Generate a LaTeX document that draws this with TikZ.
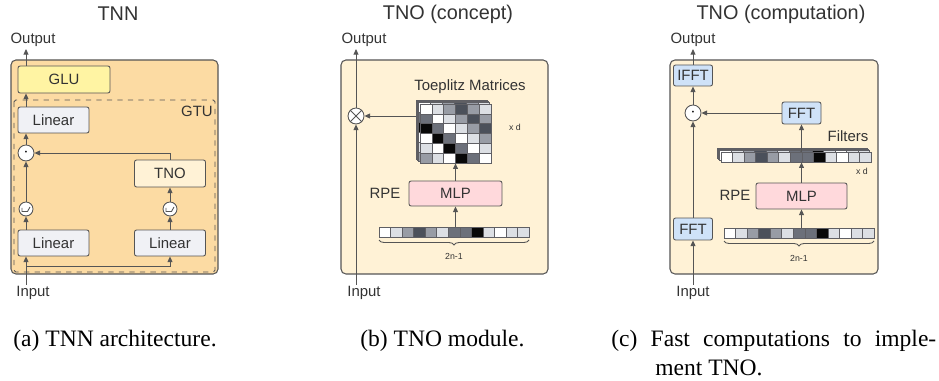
\documentclass[tikz,border=0pt]{standalone}
\usepackage{fontspec}
\setmainfont{Liberation Serif}
\setsansfont{Liberation Sans}
\usetikzlibrary{arrows.meta,decorations.pathreplacing}

\definecolor{edge}{RGB}{85,85,85}
\definecolor{ink}{RGB}{51,51,51}
\definecolor{cellline}{RGB}{95,95,100}
\definecolor{tnnorange}{RGB}{252,219,163}
\definecolor{tnocream}{RGB}{255,242,214}
\definecolor{glufill}{RGB}{255,244,163}
\definecolor{linfill}{RGB}{240,241,245}
\definecolor{mlpfill}{RGB}{255,217,220}
\definecolor{fftfill}{RGB}{207,226,248}
\definecolor{clight}{RGB}{220,223,228}
\definecolor{cmid}{RGB}{152,156,165}
\definecolor{cdim}{RGB}{108,112,122}
\definecolor{cdark}{RGB}{75,80,90}
\definecolor{cblack}{RGB}{8,8,8}

\begin{document}
\begin{tikzpicture}[x=0.02cm, y=-0.02cm,
  lbl/.style={font=\sffamily\fontsize{8.5}{10}\selectfont, text=ink},
  ttl/.style={font=\sffamily\fontsize{11.3}{13}\selectfont, text=ink},
  tiny/.style={font=\sffamily\fontsize{5}{6}\selectfont, text=ink},
  captext/.style={font=\fontsize{13.4}{15}\selectfont, anchor=west, inner sep=0pt},
  panel/.style={draw=edge, line width=0.6pt, rounded corners=2.8pt},
  blk/.style={draw=edge, line width=0.5pt, rounded corners=1.2pt, lbl, inner sep=0pt},
  dot/.style={draw=edge, fill=white, circle, line width=0.5pt, inner sep=0pt, minimum size=0.32cm},
  act/.style={dot, minimum size=0.28cm},
  cell/.style={draw=cellline, line width=0.3pt},
  wire/.style={draw=edge, line width=0.5pt},
  arr/.style={wire, -{Triangle[length=3.2pt,width=2.8pt]}},
  brc/.style={wire, decorate, decoration={brace, mirror, amplitude=0.1cm}}
]
\useasboundingbox (0,0) rectangle (939,381);

% ---------------- TNN ----------------
\node[ttl] (ta) at (118,14) {TNN};
\draw[panel, fill=tnnorange] (11,60) rectangle (218,274);
\draw[draw=edge, line width=0.5pt, dashed, rounded corners=1pt] (14,100) rectangle (215,272);
\node[lbl] (gtu) at (197,111) {GTU};

\coordinate (spa) at (26,0);
\coordinate (outatip) at (26,49);
\coordinate (inaend) at (26,285);
\coordinate (forka) at (26,266);

\node[blk, fill=glufill, minimum width=1.84cm, minimum height=0.54cm] (glu) at (64,79.5) {GLU};
\node[blk, fill=linfill, minimum width=1.42cm, minimum height=0.52cm] (lin3) at (53.5,120) {Linear};
\node[dot] (mula) at (26,153) {$\cdot$};
\node[blk, fill=tnocream, minimum width=1.42cm, minimum height=0.54cm] (tnoa) at (170,173.5) {TNO};
\node[act] (acta) at (26,209) {};
\node[act] (actb) at (170,209) {};
\node[blk, fill=linfill, minimum width=1.42cm, minimum height=0.52cm] (lina) at (53.5,243) {Linear};
\node[blk, fill=linfill, minimum width=1.42cm, minimum height=0.52cm] (linb) at (170,243) {Linear};
\node[lbl] (outa) at (33,40) {Output};
\node[lbl] (ina) at (33,293) {Input};

\draw[wire] (acta) ++(-4,-1) -- ++(0,3.5) -- ++(5.5,0) -- ++(2.5,-4.5);
\draw[wire] (actb) ++(-4,-1) -- ++(0,3.5) -- ++(5.5,0) -- ++(2.5,-4.5);

\draw[arr] (inaend) -- (lina.south -| spa);
\draw[arr] (forka) -| (linb.south);
\draw[arr] (lina.north -| spa) -- (acta.south);
\draw[arr] (acta.north) -- (mula.south);
\draw[arr] (mula.north) -- (lin3.south -| spa);
\draw[arr] (lin3.north -| spa) -- (glu.south -| spa);
\draw[arr] (glu.north -| spa) -- (outatip);
\draw[arr] (linb.north) -- (actb.south);
\draw[arr] (actb.north) -- (tnoa.south);
\draw[arr] (tnoa.north) |- (mula.east);

% ---------------- TNO (concept) ----------------
\node[ttl] (tb) at (448,14) {TNO (concept)};
\draw[panel, fill=tnocream] (341,60) rectangle (548,274);
\node[lbl] (outb) at (364,40) {Output};
\node[lbl] (inb) at (364,293) {Input};
\coordinate (outbtip) at (356,49);
\coordinate (inbend) at (356,285);

\node[dot] (mulb) at (356,116) {};
\draw[wire] (mulb.north west) -- (mulb.south east) (mulb.north east) -- (mulb.south west);
\node[lbl] (toeplbl) at (470,87) {Toeplitz Matrices};
\node[inner sep=0pt, minimum width=1.42cm, minimum height=1.18cm] (toep) at (455.5,133.5) {};
\draw[arr] (toep.west |- mulb) -- (mulb.east);

% stacked Toeplitz matrices
\foreach \o in {3,2,1,0} {
  \foreach \row [count=\r from 0] in {{white,clight,cmid,cdark,cmid,clight},
                                      {cdim,white,clight,cmid,cdark,cmid},
                                      {cblack,cdim,white,clight,cmid,cdark},
                                      {white,cblack,cdim,white,clight,cmid},
                                      {clight,white,cblack,cdim,white,clight},
                                      {cmid,clight,white,cblack,cdim,white}} {
    \foreach \c [count=\i from 0] in \row
      \filldraw[cell, fill=\c] (420-1.3*\o+\i*11.83, 104-1.3*\o+\r*9.83) rectangle ++(11.83,9.83);
  }
}
\node[tiny] (xdb) at (515,127) {x d};

\node[blk, fill=mlpfill, minimum width=1.86cm, minimum height=0.5cm] (mlpb) at (455.5,193.5) {MLP};
\node[lbl] (rpeb) at (385,193) {RPE};
\foreach \c [count=\i from 0] in {white,clight,cmid,cdark,cmid,clight,cdim,cdim,cblack,clight,white,clight,clight}
  \filldraw[cell, fill=\c] (379+\i*11.54,227) rectangle ++(11.54,10);
\node[inner sep=0pt, minimum width=3cm, minimum height=0.2cm] (vecb) at (454,232) {};
\draw[brc] (379,240) -- (529,240);
\node[tiny] (lenb) at (454,256) {2n-1};

\draw[arr] (inbend) -- (mulb.south);
\draw[arr] (mulb.north) -- (outbtip);
\draw[arr] (vecb.north -| mlpb) -- (mlpb.south);
\draw[arr] (mlpb.north) -- (toep.south -| mlpb);

% ---------------- TNO (computation) ----------------
\node[ttl] (tc) at (781,14) {TNO (computation)};
\draw[panel, fill=tnocream] (670,60) rectangle (878,274);
\node[lbl] (outc) at (693,40) {Output};
\node[lbl] (inc) at (693,293) {Input};
\coordinate (outctip) at (693,49);
\coordinate (incend) at (693,285);

\node[blk, fill=fftfill, minimum width=0.78cm, minimum height=0.42cm] (ifft) at (693,75.5) {IFFT};
\node[dot] (mulc) at (693,113) {$\cdot$};
\node[blk, fill=fftfill, minimum width=0.78cm, minimum height=0.44cm] (fftf) at (801.5,113) {FFT};
\node[lbl] (filtlbl) at (848,136) {Filters};

% stacked filters
\foreach \o in {3,2,1,0}
  \foreach \c [count=\i from 0] in {white,clight,cmid,cdark,cmid,clight,cdim,cdim,cblack,clight,white,clight,clight}
    \filldraw[cell, fill=\c] (721-1.3*\o+\i*11.54, 152-1.3*\o) rectangle ++(11.54,10);
\node[inner sep=0pt, minimum width=3cm, minimum height=0.2cm] (filt) at (796,157) {};
\node[tiny] (xdc) at (862,171) {x d};

\node[blk, fill=mlpfill, minimum width=1.82cm, minimum height=0.52cm] (mlpc) at (801.5,196) {MLP};
\node[lbl] (rpec) at (735,195) {RPE};
\foreach \c [count=\i from 0] in {white,clight,cmid,cdark,cmid,clight,cdim,cdim,cblack,clight,white,clight,clight}
  \filldraw[cell, fill=\c] (724+\i*11.54,228) rectangle ++(11.54,10);
\node[inner sep=0pt, minimum width=3cm, minimum height=0.2cm] (vecc) at (799,233) {};
\draw[brc] (724,241) -- (874,241);
\node[tiny] (lenc) at (799,258) {2n-1};
\node[blk, fill=fftfill, minimum width=0.78cm, minimum height=0.44cm] (fftx) at (693,229) {FFT};

\draw[arr] (incend) -- (fftx.south);
\draw[arr] (fftx.north) -- (mulc.south);
\draw[arr] (mulc.north) -- (ifft.south);
\draw[arr] (ifft.north) -- (outctip);
\draw[arr] (fftf.west) -- (mulc.east);
\draw[arr] (filt.north -| fftf) -- (fftf.south);
\draw[arr] (mlpc.north) -- (filt.south -| mlpc);
\draw[arr] (vecc.north -| mlpc) -- (mlpc.south);

% ---------------- captions ----------------
\node[captext] (capa) at (13,341) {(a) TNN architecture.};
\node[captext] (capb) at (360,341) {(b) TNO module.};
\node[captext] (capc1) at (611,341) {\makebox[6.5cm][s]{(c) Fast computations to imple-}};
\node[captext] (capc2) at (655,368) {ment TNO.};
\end{tikzpicture}
\end{document}
